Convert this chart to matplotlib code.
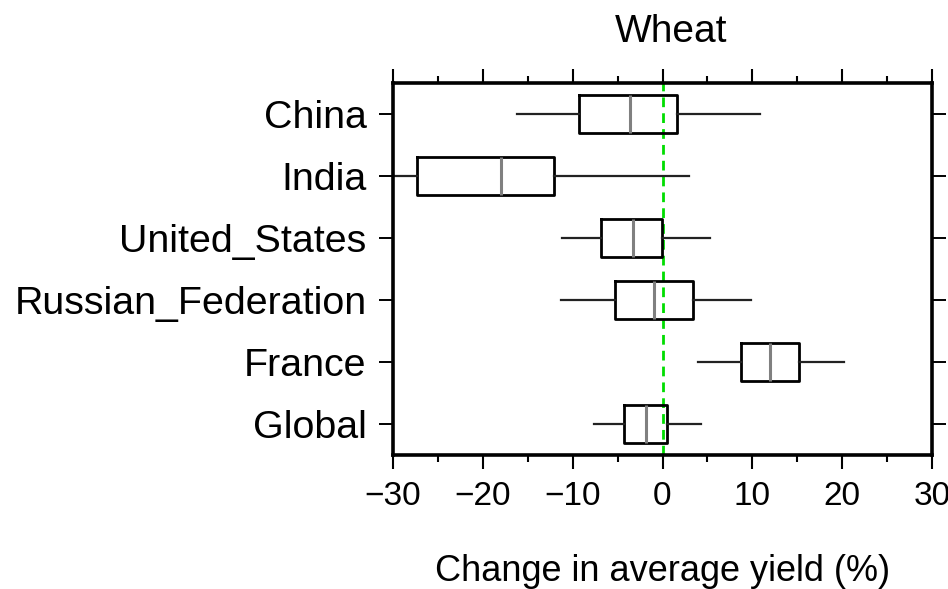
import matplotlib
matplotlib.use("Agg")
import matplotlib.pyplot as plt
from matplotlib.ticker import MultipleLocator

plt.rcParams['font.family'] = ['Liberation Sans', 'DejaVu Sans']

# data (percent change in yield)
countries = ['China', 'India', 'United_States', 'Russian_Federation', 'France', 'Global']
whis_lo = [-16.2, -31.0, -11.2, -11.3, 4.0, -7.6]
q1 = [-9.3, -27.3, -6.9, -5.3, 8.7, -4.3]
median = [-3.6, -18.0, -3.3, -0.9, 12.0, -1.8]
q3 = [1.6, -12.1, -0.1, 3.4, 15.2, 0.5]
whis_hi = [10.9, 3.0, 5.3, 9.9, 20.2, 4.3]

stats = []
for i in range(len(countries)):
    stats.append({'label': countries[i], 'whislo': whis_lo[i], 'q1': q1[i],
                  'med': median[i], 'q3': q3[i], 'whishi': whis_hi[i]})

fig = plt.figure(figsize=(9.48, 5.89), dpi=100)
ax = fig.add_axes([393/948, 1-455/589, (932-393)/948, (455-83)/589])

pos = list(range(1, len(countries)+1))
ax.bxp(stats, positions=pos, vert=False, widths=0.61, showcaps=False, showfliers=False,
       boxprops=dict(color='black', linewidth=2.0),
       whiskerprops=dict(color='#222222', linewidth=1.6),
       medianprops=dict(color='#808080', linewidth=2.2))

# zero line
ax.axvline(0, color='#00dd00', linestyle=(0, (3.5, 2.2)), linewidth=2.0, zorder=0)

ax.set_xlim(-30, 30)
ax.set_ylim(6.5, 0.5)
ax.set_yticks(pos)
ax.set_yticklabels(countries)
ax.xaxis.set_major_locator(MultipleLocator(10))
ax.xaxis.set_minor_locator(MultipleLocator(5))

for s in ax.spines.values():
    s.set_linewidth(2.6)

ax.tick_params(axis='x', which='major', top=True, direction='out', length=10, width=1.5,
               labelsize=24, pad=9)
ax.tick_params(axis='x', which='minor', top=True, direction='out', length=5, width=1.5)
ax.tick_params(axis='y', which='major', right=True, direction='out', length=10, width=1.4,
               labelsize=28.4, pad=9)

ax.text(0.516, 1.11, 'Wheat', transform=ax.transAxes, ha='center', va='baseline', fontsize=28)
ax.set_xlabel('Change in average yield (%)', fontsize=26, labelpad=30)

fig.savefig('out.png', dpi=100)
